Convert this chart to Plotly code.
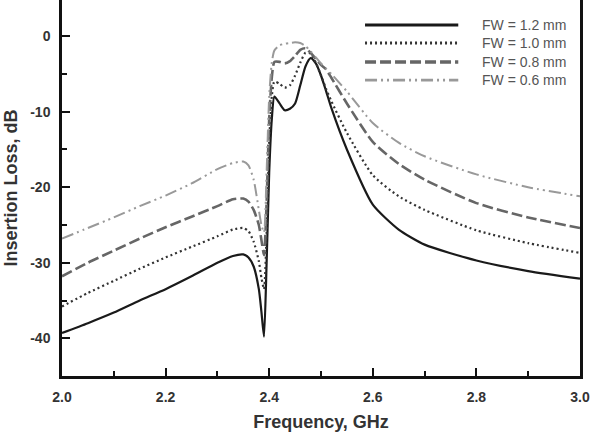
import plotly.graph_objects as go

freq = [2.0, 2.05, 2.1, 2.15, 2.2, 2.25, 2.3, 2.33, 2.35, 2.36, 2.37, 2.38, 2.385, 2.39,
        2.395, 2.40, 2.405, 2.41, 2.42, 2.43, 2.44, 2.45, 2.46, 2.47, 2.48, 2.49, 2.50,
        2.51, 2.52, 2.55, 2.6, 2.65, 2.7, 2.8, 2.9, 3.0]

fw_12 = [-39.3, -38.0, -36.6, -35.0, -33.5, -31.8, -30.0, -29.1, -28.9, -29.3, -30.5, -33.5, -36.5, -39.8,
         -30.0, -18.0, -11.0, -8.0, -8.9, -9.8, -9.6, -8.9, -6.5, -4.0, -2.9, -3.6, -5.2,
         -7.3, -9.5, -15.0, -22.3, -25.6, -27.6, -29.7, -31.1, -32.1]
fw_10 = [-35.8, -34.0, -32.4, -30.8, -29.3, -27.9, -26.5, -25.6, -25.4, -25.8, -27.2, -29.8, -32.0, -33.5,
         -26.0, -14.0, -8.0, -6.0, -6.3, -6.8, -6.5, -5.2, -3.5, -2.2, -2.3, -3.5, -5.2,
         -7.0, -8.6, -12.8, -18.4, -21.2, -23.0, -25.7, -27.4, -28.7]
fw_08 = [-31.8, -30.0, -28.4, -26.8, -25.3, -23.9, -22.5, -21.6, -21.5, -21.9, -23.0, -25.0, -27.0, -29.0,
         -22.0, -11.0, -5.5, -3.4, -3.4, -3.6, -3.3, -2.6, -1.8, -1.6, -2.2, -3.0, -3.8,
         -4.4, -5.5, -8.9, -14.0, -16.9, -19.0, -22.1, -24.0, -25.4]
fw_06 = [-26.8, -25.4, -24.0, -22.5, -21.1, -19.5, -17.6, -16.8, -16.6, -17.1, -19.0, -23.0, -25.0, -26.0,
         -18.0, -8.0, -3.5, -1.9, -1.2, -1.0, -0.9, -0.8, -0.9, -1.3, -2.0, -2.8, -3.6,
         -4.3, -5.0, -7.3, -11.5, -14.1, -15.9, -18.3, -20.0, -21.2]

series_names = ["FW = 1.2 mm", "FW = 1.0 mm", "FW = 0.8 mm", "FW = 0.6 mm"]
series_vals = [fw_12, fw_10, fw_08, fw_06]

x_ticks = [2.0, 2.2, 2.4, 2.6, 2.8, 3.0]
x_ticklabels = ["2.0", "2.2", "2.4", "2.6", "2.8", "3.0"]
y_ticks = [-40, -30, -20, -10, 0]
y_ticklabels = ["-40", "-30", "-20", "-10", "0"]

colors = ["#1a1a1a", "#333333", "#666666", "#999999"]
dashes = ["solid", "2px,3px", "11px,4px", "12px,4px,2px,4px,2px,4px"]
widths = [2.2, 2.2, 2.6, 2.0]

fig = go.Figure()
for name, vals, c, d, w in zip(series_names, series_vals, colors, dashes, widths):
    fig.add_trace(go.Scatter(x=freq, y=vals, mode="lines", name=name,
                             line=dict(color=c, dash=d, width=w, shape="spline", smoothing=0.6),
                             showlegend=False))

# manual legend (long line samples like the original)
leg_y = [0.9335, 0.8855, 0.835, 0.787]
for name, c, d, w, yy in zip(series_names, colors, dashes, widths, leg_y):
    fig.add_shape(type="line", xref="paper", yref="paper", x0=0.585, x1=0.765, y0=yy, y1=yy,
                  line=dict(color=c, dash=d, width=w + 0.8))
    fig.add_annotation(xref="paper", yref="paper", x=0.807, y=yy, text=name, showarrow=False,
                       xanchor="left", yanchor="middle",
                       font=dict(family="Liberation Sans, Arial", size=14, color="#555555"))

axis_common = dict(showline=True, linecolor="#111111", linewidth=2.5, mirror=True,
                   ticks="inside", ticklen=8, tickwidth=2, tickcolor="#111111",
                   showgrid=False, zeroline=False, tickmode="array", ticklabeloverflow="allow",
                   automargin=False,
                   tickfont=dict(family="Liberation Sans, Arial", size=14, color="#333333", weight="bold"))

fig.update_xaxes(range=[2.0, 3.0], tickvals=x_ticks, ticktext=x_ticklabels,
                 minor=dict(ticks="inside", ticklen=5, tickwidth=2, tickcolor="#111111",
                            tickmode="linear", tick0=2.1, dtick=0.2),
                 title=dict(text="Frequency, GHz", standoff=12,
                            font=dict(family="Liberation Sans, Arial", size=18, color="#333333", weight="bold")),
                 ticklabelstandoff=6,
                 **axis_common)
fig.update_yaxes(range=[-45, 4.8], tickvals=y_ticks, ticktext=y_ticklabels,
                 minor=dict(ticks="inside", ticklen=5, tickwidth=2, tickcolor="#111111",
                            tickmode="linear", tick0=-45, dtick=10),
                 title=dict(text="Insertion Loss, dB", standoff=8,
                            font=dict(family="Liberation Sans, Arial", size=18, color="#333333", weight="bold")),
                 ticklabelstandoff=6,
                 **axis_common)

fig.update_layout(width=592, height=435, margin=dict(l=62, r=12, t=0, b=59),
                  paper_bgcolor="white", plot_bgcolor="white")
fig.write_html("out.html")
